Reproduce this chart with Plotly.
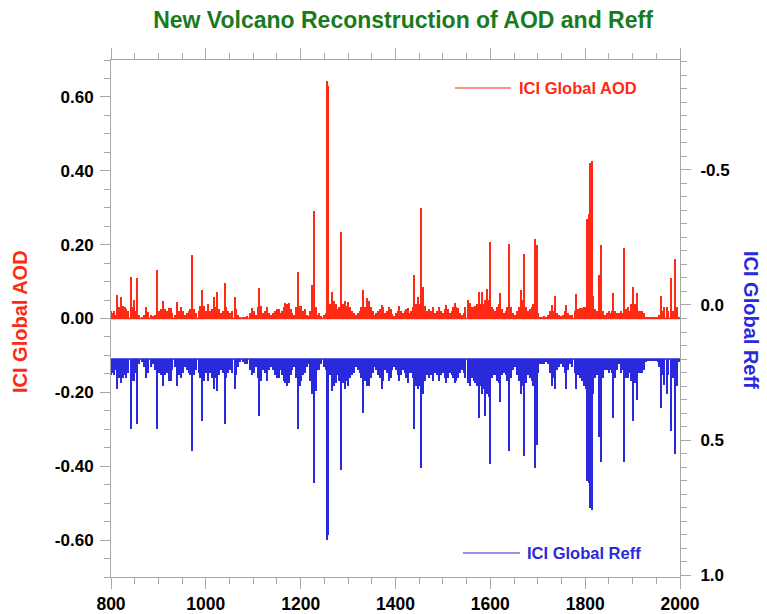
import plotly.graph_objects as go

# ---- data (year, AOD, Reff) ----
years = [800, 803, 806, 810, 814, 818, 822, 826, 829, 833, 837, 842, 846, 849, 852, 855, 860, 866, 870, 875,
         879, 884, 889, 893, 897, 901, 906, 910, 914, 919, 923, 926, 930, 935, 940, 944, 948, 952, 956, 960,
         965, 968, 972, 976, 980, 985, 988, 992, 996, 1000, 1005, 1009, 1013, 1017, 1020, 1024, 1028, 1032, 1036, 1041,
         1044, 1048, 1052, 1056, 1061, 1065, 1069, 1073, 1078, 1083, 1088, 1093, 1098, 1102, 1106, 1110, 1113, 1117, 1121, 1125,
         1129, 1133, 1138, 1143, 1147, 1151, 1154, 1158, 1162, 1165, 1168, 1172, 1175, 1179, 1183, 1187, 1190, 1194, 1198, 1201,
         1205, 1209, 1213, 1217, 1221, 1225, 1228, 1232, 1236, 1240, 1244, 1249, 1253, 1255, 1257, 1259, 1263, 1266, 1270, 1274,
         1278, 1282, 1285, 1289, 1293, 1297, 1301, 1305, 1309, 1313, 1317, 1321, 1325, 1328, 1332, 1336, 1340, 1344, 1348, 1352,
         1356, 1360, 1364, 1368, 1371, 1375, 1379, 1383, 1386, 1390, 1394, 1398, 1402, 1405, 1408, 1412, 1416, 1420, 1423, 1426,
         1430, 1434, 1437, 1440, 1444, 1447, 1451, 1455, 1458, 1462, 1466, 1469, 1472, 1476, 1480, 1484, 1488, 1493, 1497, 1501,
         1504, 1507, 1511, 1515, 1519, 1522, 1525, 1529, 1532, 1536, 1540, 1544, 1548, 1553, 1557, 1561, 1565, 1569, 1572, 1576,
         1580, 1583, 1587, 1590, 1593, 1597, 1600, 1604, 1607, 1611, 1614, 1618, 1621, 1625, 1629, 1633, 1636, 1640, 1644, 1648,
         1652, 1656, 1660, 1665, 1668, 1672, 1676, 1680, 1684, 1688, 1691, 1694, 1698, 1702, 1706, 1710, 1714, 1718, 1722, 1726,
         1730, 1734, 1737, 1741, 1745, 1749, 1753, 1757, 1761, 1765, 1769, 1773, 1778, 1782, 1786, 1790, 1794, 1798, 1802, 1805,
         1808, 1811, 1814, 1818, 1822, 1826, 1830, 1834, 1838, 1842, 1846, 1850, 1853, 1856, 1860, 1864, 1868, 1872, 1876, 1879,
         1883, 1887, 1891, 1895, 1898, 1902, 1906, 1910, 1914, 1918, 1921, 1925, 1929, 1933, 1937, 1941, 1945, 1949, 1953, 1957,
         1960, 1964, 1967, 1972, 1976, 1981, 1985, 1990, 1994, 1998]

aod = [0.020, 0.015, 0.020, 0.010, 0.063, 0.030, 0.057, 0.035, 0.030, 0.025, 0.020, 0.112, 0.030, 0.050, 0.020, 0.109, 0.010, 0.005, 0.010, 0.030,
       0.018, 0.010, 0.008, 0.010, 0.130, 0.020, 0.025, 0.048, 0.025, 0.020, 0.028, 0.028, 0.015, 0.010, 0.044, 0.020, 0.030, 0.020, 0.010, 0.015,
       0.020, 0.025, 0.172, 0.025, 0.015, 0.020, 0.035, 0.077, 0.035, 0.020, 0.040, 0.020, 0.025, 0.059, 0.030, 0.073, 0.025, 0.015, 0.020, 0.097,
       0.030, 0.020, 0.015, 0.020, 0.057, 0.025, 0.010, 0.005, 0.005, 0.005, 0.008, 0.015, 0.028, 0.020, 0.010, 0.030, 0.082, 0.035, 0.015, 0.020,
       0.032, 0.015, 0.010, 0.015, 0.020, 0.025, 0.025, 0.015, 0.020, 0.030, 0.042, 0.040, 0.042, 0.025, 0.015, 0.010, 0.030, 0.126, 0.035, 0.035,
       0.020, 0.025, 0.010, 0.008, 0.020, 0.090, 0.290, 0.030, 0.010, 0.015, 0.008, 0.010, 0.015, 0.620, 0.644, 0.630, 0.040, 0.072, 0.048, 0.040,
       0.025, 0.030, 0.234, 0.040, 0.048, 0.035, 0.045, 0.030, 0.020, 0.015, 0.010, 0.015, 0.020, 0.030, 0.076, 0.030, 0.055, 0.048, 0.030, 0.020,
       0.010, 0.015, 0.020, 0.025, 0.036, 0.030, 0.015, 0.020, 0.032, 0.025, 0.012, 0.008, 0.015, 0.020, 0.033, 0.020, 0.015, 0.020, 0.025, 0.028,
       0.015, 0.020, 0.030, 0.119, 0.040, 0.057, 0.040, 0.298, 0.085, 0.035, 0.020, 0.020, 0.025, 0.020, 0.032, 0.015, 0.020, 0.032, 0.020, 0.015,
       0.025, 0.036, 0.025, 0.015, 0.020, 0.030, 0.042, 0.030, 0.028, 0.015, 0.010, 0.015, 0.030, 0.050, 0.043, 0.030, 0.030, 0.035, 0.040, 0.072,
       0.040, 0.072, 0.040, 0.050, 0.081, 0.050, 0.207, 0.030, 0.025, 0.020, 0.030, 0.040, 0.070, 0.025, 0.015, 0.020, 0.030, 0.201, 0.030, 0.015,
       0.010, 0.020, 0.030, 0.076, 0.050, 0.176, 0.030, 0.020, 0.025, 0.030, 0.040, 0.216, 0.200, 0.015, 0.005, 0.005, 0.008, 0.005, 0.010, 0.020,
       0.036, 0.020, 0.062, 0.015, 0.010, 0.008, 0.010, 0.020, 0.036, 0.015, 0.010, 0.010, 0.020, 0.066, 0.025, 0.028, 0.028, 0.030, 0.030, 0.270,
       0.282, 0.420, 0.427, 0.060, 0.025, 0.020, 0.119, 0.198, 0.020, 0.010, 0.015, 0.020, 0.015, 0.020, 0.070, 0.020, 0.015, 0.015, 0.020, 0.015,
       0.190, 0.025, 0.030, 0.020, 0.040, 0.085, 0.040, 0.068, 0.020, 0.020, 0.020, 0.015, 0.005, 0.003, 0.003, 0.003, 0.003, 0.003, 0.005, 0.010,
       0.060, 0.020, 0.030, 0.032, 0.020, 0.110, 0.020, 0.160, 0.030, 0.005]

reff = [0.26, 0.25, 0.26, 0.24, 0.31, 0.27, 0.29, 0.27, 0.26, 0.27, 0.25, 0.46, 0.28, 0.28, 0.25, 0.44, 0.22, 0.21, 0.23, 0.27,
        0.25, 0.23, 0.22, 0.24, 0.46, 0.25, 0.26, 0.30, 0.26, 0.25, 0.28, 0.28, 0.24, 0.23, 0.30, 0.26, 0.27, 0.25, 0.23, 0.24,
        0.25, 0.26, 0.54, 0.26, 0.24, 0.25, 0.27, 0.43, 0.28, 0.25, 0.28, 0.25, 0.27, 0.31, 0.27, 0.32, 0.26, 0.24, 0.25, 0.44,
        0.27, 0.25, 0.24, 0.25, 0.31, 0.26, 0.23, 0.21, 0.21, 0.22, 0.22, 0.24, 0.26, 0.25, 0.23, 0.27, 0.41, 0.28, 0.24, 0.25,
        0.28, 0.24, 0.23, 0.24, 0.26, 0.27, 0.27, 0.24, 0.26, 0.28, 0.29, 0.30, 0.29, 0.26, 0.24, 0.23, 0.27, 0.46, 0.30, 0.28,
        0.26, 0.25, 0.23, 0.22, 0.28, 0.33, 0.66, 0.32, 0.24, 0.24, 0.22, 0.23, 0.24, 0.85, 0.87, 0.85, 0.26, 0.32, 0.30, 0.29,
        0.26, 0.28, 0.61, 0.29, 0.31, 0.28, 0.30, 0.27, 0.26, 0.25, 0.23, 0.24, 0.25, 0.27, 0.40, 0.28, 0.30, 0.30, 0.27, 0.25,
        0.23, 0.24, 0.26, 0.27, 0.31, 0.28, 0.24, 0.25, 0.28, 0.27, 0.24, 0.23, 0.24, 0.26, 0.28, 0.26, 0.24, 0.25, 0.27, 0.29,
        0.25, 0.25, 0.27, 0.46, 0.30, 0.31, 0.30, 0.605, 0.33, 0.28, 0.26, 0.25, 0.27, 0.26, 0.28, 0.25, 0.26, 0.28, 0.26, 0.25,
        0.27, 0.29, 0.27, 0.25, 0.26, 0.27, 0.29, 0.28, 0.27, 0.25, 0.24, 0.25, 0.27, 0.29, 0.30, 0.27, 0.28, 0.29, 0.30, 0.42,
        0.30, 0.33, 0.31, 0.41, 0.33, 0.34, 0.59, 0.27, 0.26, 0.26, 0.28, 0.29, 0.36, 0.26, 0.25, 0.26, 0.28, 0.54, 0.27, 0.24,
        0.23, 0.26, 0.28, 0.33, 0.30, 0.56, 0.29, 0.26, 0.27, 0.28, 0.30, 0.605, 0.52, 0.25, 0.22, 0.22, 0.22, 0.21, 0.22, 0.25,
        0.30, 0.27, 0.31, 0.24, 0.23, 0.22, 0.23, 0.25, 0.31, 0.24, 0.22, 0.23, 0.25, 0.31, 0.26, 0.27, 0.28, 0.30, 0.31, 0.65,
        0.66, 0.75, 0.76, 0.33, 0.27, 0.26, 0.49, 0.58, 0.27, 0.24, 0.24, 0.25, 0.24, 0.25, 0.42, 0.27, 0.24, 0.22, 0.25, 0.24,
        0.58, 0.27, 0.27, 0.25, 0.28, 0.43, 0.29, 0.35, 0.25, 0.25, 0.25, 0.24, 0.21, 0.205, 0.205, 0.205, 0.205, 0.205, 0.21, 0.23,
        0.38, 0.26, 0.295, 0.33, 0.26, 0.465, 0.27, 0.55, 0.30, 0.21]

reff_floor = 0.2
x_ticks = [800, 1000, 1200, 1400, 1600, 1800, 2000]
aod_ticks = [-0.6, -0.4, -0.2, 0.0, 0.2, 0.4, 0.6]
reff_ticks = [-0.5, 0.0, 0.5, 1.0]

RED = "#FF2A14"
BLUE = "#2A2ADC"
GRAY = "#A8A8A8"
FONT = "Liberation Sans"

W, H = 767, 614
L, R, T, B = 111, 680, 60, 577  # plot frame in window pixels

fig = go.Figure()
fig.add_trace(go.Bar(x=years, y=aod, width=3, marker=dict(color=RED, line=dict(width=0)),
                     name="ICI Global AOD", yaxis="y"))
fig.add_trace(go.Bar(x=years, y=[r - reff_floor for r in reff], base=reff_floor, width=3,
                     marker=dict(color=BLUE, line=dict(width=0)), name="ICI Global Reff", yaxis="y2"))

fig.add_hline(y=0, line=dict(color=RED, width=1.5), yref="y")
fig.add_shape(type="line", xref="x", yref="y2", x0=800, x1=2000, y0=reff_floor, y1=reff_floor,
              line=dict(color=BLUE, width=1.5))

xtickfont = dict(family=FONT, size=17.5, color="black", weight="bold")
ytickfont = dict(family=FONT, size=17, color="black", weight="bold")

def px_x(px):
    return (px - L) / (R - L)

def px_y(py):
    return (B - py) / (B - T)

fig.update_layout(
    width=W, height=H,
    margin=dict(l=L, r=W - R, t=T, b=H - B, autoexpand=False),
    paper_bgcolor="white", plot_bgcolor="white",
    showlegend=False, barmode="overlay", bargap=0,
    title=dict(text="<b>New Volcano Reconstruction of AOD and Reff</b>", x=px_x(403), xref="paper",
               xanchor="center", y=1 - 20 / H, yanchor="middle",
               font=dict(family=FONT, size=23, color="#1A7A1E")),
    xaxis=dict(range=[800, 2000], tickvals=x_ticks, ticktext=[str(v) for v in x_ticks],
               ticks="outside", ticklen=11, tickcolor=GRAY, ticklabelstandoff=0,
               showline=True, linecolor=GRAY, linewidth=1, mirror="ticks", showgrid=False, zeroline=False,
               tickfont=xtickfont,
               minor=dict(dtick=50, ticks="outside", ticklen=6, tickcolor=GRAY, showgrid=False)),
    yaxis=dict(range=[-0.7, 0.7], tickvals=aod_ticks, ticktext=[f"{v:.2f}" for v in aod_ticks],
               ticks="outside", ticklen=10, ticklabelstandoff=3,
               tickcolor=GRAY, showline=True, linecolor=GRAY, linewidth=1, showgrid=False, zeroline=False,
               tickfont=ytickfont,
               minor=dict(dtick=0.05, ticks="outside", ticklen=6, tickcolor=GRAY, showgrid=False)),
    yaxis2=dict(range=[1.007, -0.907], overlaying="y", side="right", tickvals=reff_ticks,
                ticktext=[f"{v:.1f}" for v in reff_ticks], ticklabelstandoff=6,
                ticks="outside", ticklen=10, tickcolor=GRAY, showline=True, linecolor=GRAY, linewidth=1,
                showgrid=False, zeroline=False, tickfont=ytickfont,
                minor=dict(dtick=0.05, ticks="outside", ticklen=6, tickcolor=GRAY, showgrid=False)),
)

fig.add_annotation(text="<b>ICI Global AOD</b>", xref="paper", yref="paper", x=px_x(20), y=px_y(322),
                   xanchor="center", yanchor="middle",
                   textangle=-90, showarrow=False, font=dict(family=FONT, size=20, color=RED))
fig.add_annotation(text="<b>ICI Global Reff</b>", xref="paper", yref="paper", x=px_x(751), y=px_y(320),
                   xanchor="center", yanchor="middle",
                   textangle=90, showarrow=False, font=dict(family=FONT, size=20, color=BLUE))

# legend-like entries
fig.add_shape(type="line", xref="paper", yref="paper", x0=px_x(455), x1=px_x(511), y0=px_y(88), y1=px_y(88),
              line=dict(color=RED, width=1.2))
fig.add_annotation(text="<b>ICI Global AOD</b>", xref="paper", yref="paper", x=px_x(517), y=px_y(88),
                   xanchor="left", yanchor="middle", showarrow=False, font=dict(family=FONT, size=16.5, color=RED))
fig.add_shape(type="line", xref="paper", yref="paper", x0=px_x(463), x1=px_x(520), y0=px_y(553), y1=px_y(553),
              line=dict(color=BLUE, width=1.2))
fig.add_annotation(text="<b>ICI Global Reff</b>", xref="paper", yref="paper", x=px_x(525), y=px_y(553),
                   xanchor="left", yanchor="middle", showarrow=False, font=dict(family=FONT, size=16.5, color=BLUE))

fig.write_html("out.html", config={"displayModeBar": False},
               post_script="document.body.style.margin='0';document.body.style.overflow='hidden';")
